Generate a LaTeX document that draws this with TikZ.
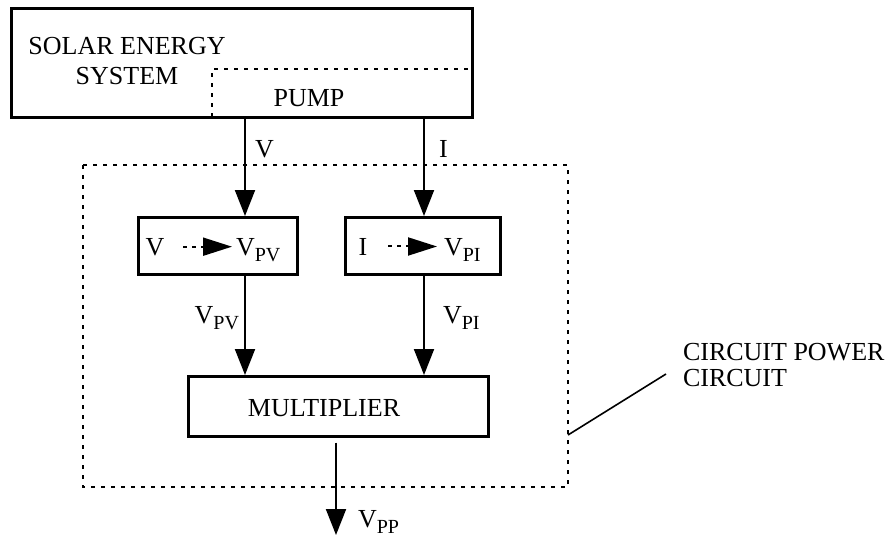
\documentclass[tikz,border=0pt]{standalone}
\usepackage{fontspec}
\setmainfont{Liberation Serif}
\usetikzlibrary{arrows.meta}

\newcommand{\lowidx}[1]{\raisebox{-3.2pt}{\fontsize{10}{10}\selectfont #1}}

\begin{document}
\begin{tikzpicture}[x=0.5pt, y=-0.5pt, line width=1pt,
  font=\fontsize{13}{15}\selectfont,
  flow/.style={-{Triangle[length=13pt,width=10pt]}},
  pointer/.style={-{Triangle[length=14.5pt,width=9pt]}, dash pattern=on 2pt off 2.5pt},
  dots/.style={dash pattern=on 1.8pt off 3.2pt},
  blockbox/.style={draw, line width=1.3pt, inner sep=0pt, anchor=north west},
  lbl/.style={inner sep=0pt, anchor=base west}]

\useasboundingbox (0,0) rectangle (889,535);

%--- Blocks ---
\node[blockbox, minimum width=230.5pt, minimum height=54.5pt] (solar) at (10,7) {};
\node[blockbox, minimum width=79.5pt, minimum height=28.5pt] (vconv) at (137,216) {};
\node[blockbox, minimum width=77.5pt, minimum height=28.5pt] (iconv) at (344,216) {};
\node[blockbox, minimum width=150pt, minimum height=30pt] (mult) at (187,375) {};

%--- Block texts ---
\node[align=center, inner sep=0pt] (solartxt) at (127,61.5) {SOLAR ENERGY\\SYSTEM};
\node[anchor=base, inner sep=0pt] (pump) at (309,107) {PUMP};
\node[anchor=base, inner sep=0pt] (multtxt) at (324,416) {MULTIPLIER};

% pump part of the solar system
\draw[dots] (212,117) -- (212,69) -- (473,69);

% power circuit
\draw[dots] (83,165) rectangle (568,487);

%--- Converters ---
\node[anchor=base, inner sep=0pt] (vin) at (155,255) {V};
\node[lbl] (vpv) at (235,255) {V\lowidx{PV}};
\draw[pointer] ([xshift=9pt]vin.east) -- ([xshift=-1.5pt]vin.east -| vpv.west);

\node[anchor=base, inner sep=0pt] (iin) at (363,255) {I};
\node[lbl] (vpi) at (443,255) {V\lowidx{PI}};
\draw[pointer] ([xshift=10pt]iin.east) -- ([xshift=-3pt]iin.east -| vpi.west);

%--- Signal arrows ---
\coordinate (vcol) at (245,119);
\coordinate (icol) at (424,119);
\coordinate (ppend) at (336,535);

\draw[flow] (vcol) -- (vcol |- vconv.north);
\draw[flow] (icol) -- (icol |- iconv.north);
\draw[flow] (vcol |- vconv.south) -- (vcol |- mult.north);
\draw[flow] (icol |- iconv.south) -- (icol |- mult.north);
\draw[flow, shorten <=2.5pt] (ppend |- mult.south) -- (ppend);

\node[lbl] (vlab) at (254,157) {V};
\node[lbl] (ilab) at (438,157) {I};
\node[lbl, anchor=base east] (vpvlab) at (240,323) {V\lowidx{PV}};
\node[lbl] (vpilab) at (442,323) {V\lowidx{PI}};
\node[lbl] (vpplab) at (357,527) {V\lowidx{PP}};

%--- Leader to circuit label ---
\node[align=left, inner sep=0pt, anchor=west, font=\fontsize{13}{13}\selectfont]
  (circlabel) at (682,365) {CIRCUIT POWER\\CIRCUIT};
\coordinate (leadfoot) at (568,435);
\coordinate (leadtop) at (666,374);
\draw[line width=0.8pt] (leadfoot) -- (leadtop);

\end{tikzpicture}
\end{document}
